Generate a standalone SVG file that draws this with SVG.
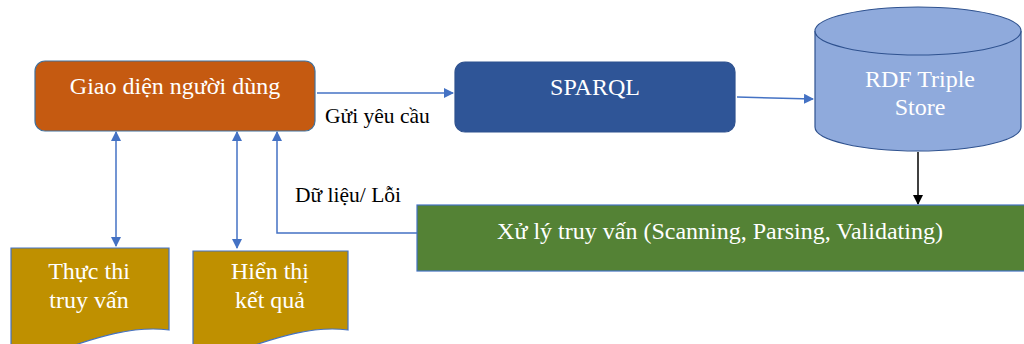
<svg xmlns="http://www.w3.org/2000/svg" width="1024" height="344" viewBox="0 0 1024 344">
<defs>
<style>
text{font-family:'Liberation Serif','Times New Roman',Times,serif}
.t{font-size:24px;fill:#fff;text-anchor:middle}
.l{font-size:21.5px;fill:#000}
.c{fill:none;stroke:#4472C4;stroke-width:1.5}
</style>
<marker id="ab" viewBox="0 0 10 10" refX="9" refY="5" markerWidth="10" markerHeight="10" markerUnits="userSpaceOnUse" orient="auto-start-reverse"><path d="M0,0 L10,5 L0,10 z" fill="#4472C4"/></marker>
<marker id="ak" viewBox="0 0 10 10" refX="9" refY="5" markerWidth="10" markerHeight="10" markerUnits="userSpaceOnUse" orient="auto"><path d="M0,0 L10,5 L0,10 z" fill="#000"/></marker>
</defs>
<rect width="1024" height="344" fill="#fff"/>
<g id="connectors">
<line class="c" x1="317" y1="93" x2="453" y2="93" marker-end="url(#ab)"/>
<line class="c" x1="737" y1="97" x2="813" y2="99" marker-end="url(#ab)"/>
<line x1="918" y1="152" x2="918" y2="204" stroke="#000" stroke-width="1.5" marker-end="url(#ak)"/>
<polyline class="c" points="417,233 277,233 277,132" marker-end="url(#ab)"/>
<line class="c" x1="116" y1="132" x2="116" y2="246" marker-start="url(#ab)" marker-end="url(#ab)"/>
<line class="c" x1="237" y1="132" x2="237" y2="248" marker-start="url(#ab)" marker-end="url(#ab)"/>
<text class="l" x="325" y="123">Gửi yêu cầu</text>
<text class="l" x="295" y="202">Dữ liệu/ Lỗi</text>
</g>
<g id="giao-dien">
<rect x="35" y="61" width="280" height="70" rx="10" fill="#C55A11" stroke="#41719C" stroke-width="1.2"/>
<text class="t" x="175" y="94">Giao diện người dùng</text>
</g>
<g id="sparql">
<rect x="455" y="62" width="280" height="70" rx="10" fill="#2F5597" stroke="#2F528F" stroke-width="1.2"/>
<text class="t" x="595" y="95">SPARQL</text>
</g>
<g id="rdf-store">
<path d="M815,31 L815,127 A103,24 0 0 0 1021,127 L1021,31" fill="#8FAADC" stroke="#2F528F" stroke-width="1.2"/>
<ellipse cx="918" cy="31" rx="103" ry="24" fill="#8FAADC" stroke="#2F528F" stroke-width="1.2"/>
<text class="t" x="920" y="87">RDF Triple</text>
<text class="t" x="920" y="115">Store</text>
</g>
<g id="xu-ly">
<rect x="417" y="205" width="610" height="66" fill="#548235" stroke="#4472C4" stroke-width="1.2"/>
<text class="t" x="720" y="239">Xử lý truy vấn (Scanning, Parsing, Validating)</text>
</g>
<g id="thuc-thi">
<path d="M11,248 L169,248 L169,330 C130,325 90,340 60,350 C40,356 25,356 11,354 Z" fill="#BF9000" stroke="#4472C4" stroke-width="1.2"/>
<text class="t" x="89" y="279">Thực thi</text>
<text class="t" x="89" y="308">truy vấn</text>
</g>
<g id="hien-thi">
<path d="M193,251 L348,251 L348,330 C310,325 270,340 240,350 C220,356 205,356 193,354 Z" fill="#BF9000" stroke="#4472C4" stroke-width="1.2"/>
<text class="t" x="270" y="279">Hiển thị</text>
<text class="t" x="270" y="308">kết quả</text>
</g>
</svg>
